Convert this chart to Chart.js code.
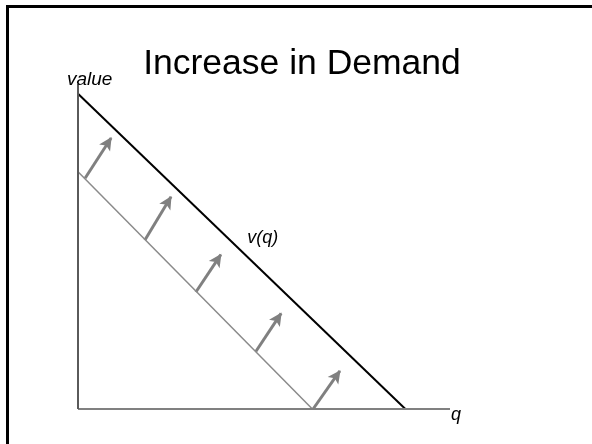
<!DOCTYPE html>
<html>
<head>
<meta charset="utf-8">
<script src="https://cdn.jsdelivr.net/npm/chart.js@4"></script>
<style>
  html, body { margin: 0; padding: 0; background: #fff; }
  #wrap { position: relative; width: 592px; height: 444px; overflow: hidden; }
  #frame { position: absolute; left: 6px; top: 5px; right: -10px; bottom: -10px;
           border-left: 3px solid #000; border-top: 3px solid #000; }
  canvas { position: absolute; left: 0; top: 0; }
</style>
</head>
<body>
<div id="wrap">
  <div id="frame"></div>
  <canvas id="chart" width="592" height="444"></canvas>
</div>
<script>
// axis ranges (arbitrary units)
const qRange = [0, 100];
const vRange = [0, 100];

// new demand curve v(q)
const demandQ = [0, 88];
const demandV = [97, 0];

// old demand curve
const oldQ = [0, 63];
const oldV = [73, 0];

// shift arrows: from the old curve up to the right
const arrowFromQ = [1.9, 18, 31.7, 47.8, 63.2];
const arrowFromV = [71, 52, 36, 17.7, 0];
const arrowToQ = [8.9, 25, 38.4, 54.6, 70.4];
const arrowToV = [83.4, 65.3, 47.5, 29.4, 11.7];

// where the v(q) label sits
const curveLabelAt = [45.5, 51];

const FONT = '"Liberation Sans", Arial, sans-serif';

function line(xs, ys, color, width, extra) {
    return Object.assign({
        data: xs.map((q, i) => ({ x: q, y: ys[i] })),
        showLine: true,
        borderColor: color,
        borderWidth: width,
        pointRadius: 0,
        fill: false,
        clip: false
    }, extra || {});
}

const datasets = [
    line([0, 0], vRange, '#5a5a5a', 2),
    line(qRange, [0, 0], '#808080', 2),
    line(oldQ, oldV, '#8a8a8a', 1.5),
    line(demandQ, demandV, '#000', 2)
];
arrowFromQ.forEach((q, i) => {
    datasets.push(line([q, arrowToQ[i]], [arrowFromV[i], arrowToV[i]], '#808080', 3, { arrow: true }));
});

// arrowheads and text labels
const overlay = {
    id: 'overlay',
    afterDatasetsDraw(chart) {
        const { ctx, scales: { x, y } } = chart;

        chart.data.datasets.forEach((ds, i) => {
            if (!ds.arrow) return;
            const pts = chart.getDatasetMeta(i).data;
            const a = pts[0], b = pts[1];
            const ang = Math.atan2(b.y - a.y, b.x - a.x);
            ctx.save();
            ctx.translate(b.x, b.y);
            ctx.rotate(ang);
            ctx.beginPath();
            ctx.moveTo(1, 0);
            ctx.lineTo(-12, -6.5);
            ctx.lineTo(-9, 0);
            ctx.lineTo(-12, 6.5);
            ctx.closePath();
            ctx.fillStyle = ds.borderColor;
            ctx.fill();
            ctx.restore();
        });

        ctx.save();
        ctx.fillStyle = '#000';
        ctx.textBaseline = 'alphabetic';

        ctx.font = '35.5px ' + FONT;
        ctx.textAlign = 'center';
        ctx.fillText('Increase in Demand', 302, 74);

        ctx.font = 'italic 19px ' + FONT;
        ctx.textAlign = 'left';
        ctx.fillText('value', x.getPixelForValue(0) - 11, y.getPixelForValue(vRange[1]) + 1);
        ctx.font = 'italic 18px ' + FONT;
        ctx.fillText('q', x.getPixelForValue(qRange[1]) + 1, y.getPixelForValue(0) + 11);
        ctx.fillText('v(q)', x.getPixelForValue(curveLabelAt[0]), y.getPixelForValue(curveLabelAt[1]));
        ctx.restore();
    }
};

new Chart(document.getElementById('chart'), {
    type: 'scatter',
    data: { datasets: datasets },
    options: {
        responsive: false,
        animation: false,
        layout: { padding: { left: 78, right: 142, top: 84, bottom: 35 } },
        scales: {
            x: { display: false, min: qRange[0], max: qRange[1] },
            y: { display: false, min: vRange[0], max: vRange[1] }
        },
        plugins: {
            legend: { display: false },
            tooltip: { enabled: false }
        }
    },
    plugins: [overlay]
});
</script>
</body>
</html>
